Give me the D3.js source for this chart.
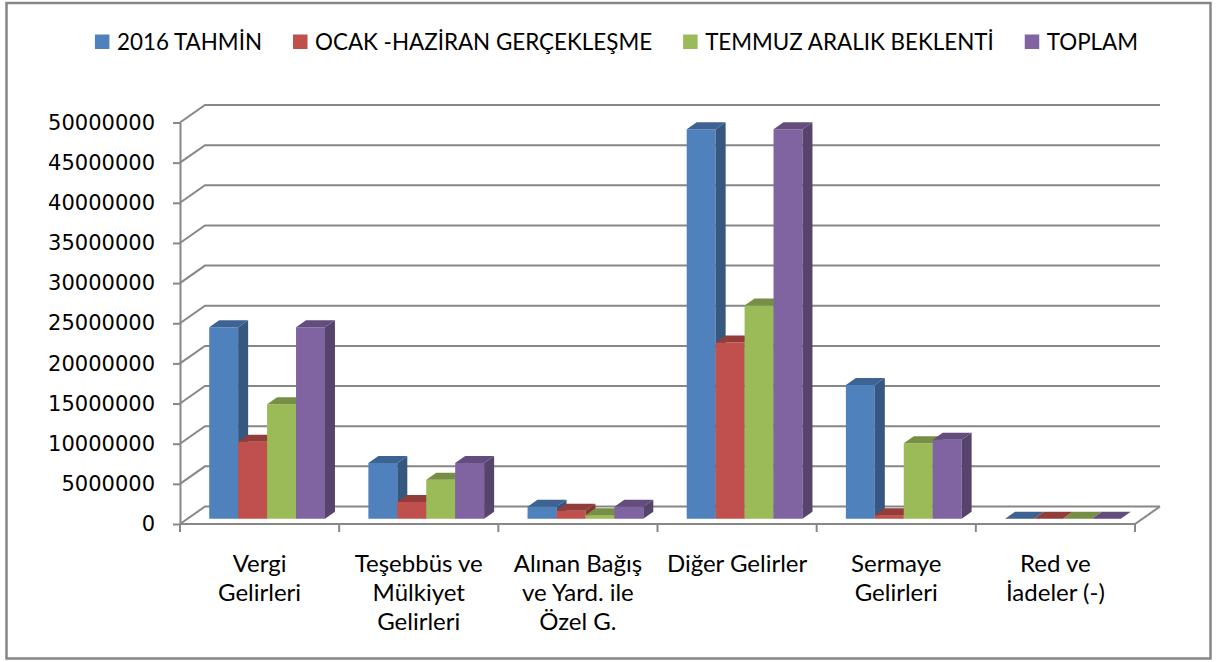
<!DOCTYPE html>
<html>
<head>
<meta charset="utf-8">
<script src="https://cdn.jsdelivr.net/npm/d3@7"></script>
<style>
body{margin:0;background:#fff}
</style>
</head>
<body>
<svg width="1217" height="662"></svg>
<script>
const categories = ["Vergi\nGelirleri", "Teşebbüs ve\nMülkiyet\nGelirleri", "Alınan Bağış\nve Yard. ile\nÖzel G.", "Diğer Gelirler", "Sermaye\nGelirleri", "Red ve\nİadeler (-)"]
const seriesNames = ["2016 TAHMİN", "OCAK -HAZİRAN GERÇEKLEŞME", "TEMMUZ ARALIK BEKLENTİ", "TOPLAM"]
const tahmin = [23850000, 6950000, 1500000, 48500000, 16650000, 0]
const ocakHaziran = [9600000, 2100000, 1000000, 21950000, 450000, 0]
const temmuzAralik = [14250000, 4850000, 450000, 26550000, 9400000, 0]
const toplam = [23850000, 6950000, 1500000, 48500000, 9850000, 0]
const yTicks = [0, 5000000, 10000000, 15000000, 20000000, 25000000, 30000000, 35000000, 40000000, 45000000, 50000000]

const seriesValues = [tahmin, ocakHaziran, temmuzAralik, toplam]
const colors = ["#4F81BD", "#C0504D", "#9BBB59", "#8064A2"]
const gridColor = "#878787"

const svg = d3.select("svg")

// chart area border
svg.append("rect")
  .attr("x", 6.5).attr("y", 3).attr("width", 1204).attr("height", 655.5)
  .attr("fill", "#fff").attr("stroke", "#868686").attr("stroke-width", 2.5)

// depth of the 3d box (oblique projection)
const DX = 25, DY = 17.5
const z0 = 0.3, z1 = 0.7

const x0 = d3.scaleBand().domain(d3.range(categories.length)).range([180, 1135])
const x1 = d3.scaleBand().domain(d3.range(seriesNames.length)).range([0, x0.bandwidth()]).paddingOuter(0.75)
const y = d3.scaleLinear().domain([0, 50000000]).range([524, 122.5])

const proj = (x, v, z) => [x + z * DX, y(v) - z * DY]
const poly = pts => pts.map(p => p.join(",")).join(" ")

// side wall + back wall gridlines
svg.append("g")
  .selectAll("path")
  .data(yTicks)
  .enter()
  .append("path")
  .attr("d", d => `M180,${y(d)}L${180 + DX},${y(d) - DY}L${1135 + DX},${y(d) - DY}`)
  .attr("fill", "none")
  .attr("stroke", gridColor)
  .attr("stroke-width", 2)

// floor front + right edge
svg.append("path")
  .attr("d", `M180,${y(0)}L1135,${y(0)}L${1135 + DX},${y(0) - DY}`)
  .attr("fill", "none").attr("stroke", gridColor).attr("stroke-width", 2)

// x ticks
svg.append("g")
  .selectAll("line")
  .data(d3.range(categories.length + 1))
  .enter()
  .append("line")
  .attr("x1", i => 180 + i * x0.step()).attr("x2", i => 180 + i * x0.step())
  .attr("y1", y(0)).attr("y2", y(0) + 8)
  .attr("stroke", gridColor).attr("stroke-width", 2)

// y axis
const yAxis = svg.append("g")
  .attr("transform", "translate(180,0)")
  .call(d3.axisLeft(y).tickValues(yTicks).tickFormat(d3.format("d")).tickSize(7).tickSizeOuter(0).tickPadding(18))
yAxis.select(".domain").attr("stroke", gridColor).attr("stroke-width", 2)
yAxis.selectAll(".tick line").attr("stroke", gridColor).attr("stroke-width", 2)
yAxis.selectAll(".tick text")
  .attr("font-family", "DejaVu Sans").attr("font-size", 21).attr("fill", "#000")
svg.append("line").attr("x1", 180).attr("x2", 180).attr("y1", y(0)).attr("y2", y(0) + 8)
  .attr("stroke", gridColor).attr("stroke-width", 2)

// bars
const bars = []
categories.forEach((c, i) => {
  seriesValues.forEach((vals, j) => {
    bars.push({i, j, v: vals[i]})
  })
})

const barG = svg.append("g")
  .selectAll("g")
  .data(bars)
  .enter()
  .append("g")

barG.append("polygon")
  .attr("points", d => {
    const xl = x0(d.i) + x1(d.j), xr = xl + x1.bandwidth()
    return poly([proj(xl, 0, z0), proj(xr, 0, z0), proj(xr, d.v, z0), proj(xl, d.v, z0)])
  })
  .attr("fill", d => colors[d.j])

barG.append("polygon")
  .attr("points", d => {
    const xr = x0(d.i) + x1(d.j) + x1.bandwidth()
    return poly([proj(xr, 0, z0), proj(xr, 0, z1), proj(xr, d.v, z1), proj(xr, d.v, z0)])
  })
  .attr("fill", d => d3.color(colors[d.j]).darker(1.1))

barG.append("polygon")
  .attr("points", d => {
    const xl = x0(d.i) + x1(d.j), xr = xl + x1.bandwidth()
    return poly([proj(xl, d.v, z0), proj(xr, d.v, z0), proj(xr, d.v, z1), proj(xl, d.v, z1)])
  })
  .attr("fill", d => d3.color(colors[d.j]).darker(0.75))

// category labels
const catText = svg.append("g")
  .selectAll("text")
  .data(categories)
  .enter()
  .append("text")
  .attr("x", (d, i) => x0(i) + x0.bandwidth() / 2)
  .attr("y", 571.5)
  .attr("text-anchor", "middle")
  .attr("font-family", "Lato")
  .attr("font-size", 24)
  .attr("fill", "#000")
catText.selectAll("tspan")
  .data(function(d) { return d.split("\n").map(t => ({t, x: d3.select(this).attr("x")})) })
  .enter()
  .append("tspan")
  .attr("x", d => d.x)
  .attr("dy", (d, k) => k === 0 ? 0 : 29.3)
  .text(d => d.t)

// legend
const legend = svg.append("g")
const items = legend.selectAll("g")
  .data(seriesNames)
  .enter()
  .append("g")
items.append("rect")
  .attr("y", 34.5).attr("width", 14.5).attr("height", 14.5)
  .attr("fill", (d, j) => colors[j])
items.append("text")
  .attr("x", 22).attr("y", 49.5)
  .attr("font-family", "Lato").attr("font-size", 22.4).attr("fill", "#000")
  .text(d => d)

let cursor = 0
const offsets = []
items.each(function() {
  offsets.push(cursor)
  cursor += 22 + this.querySelector("text").getComputedTextLength() + 31
})
const totalW = cursor - 31
const startX = 616.5 - totalW / 2
items.attr("transform", (d, j) => `translate(${startX + offsets[j]},0)`)
</script>
</body>
</html>
